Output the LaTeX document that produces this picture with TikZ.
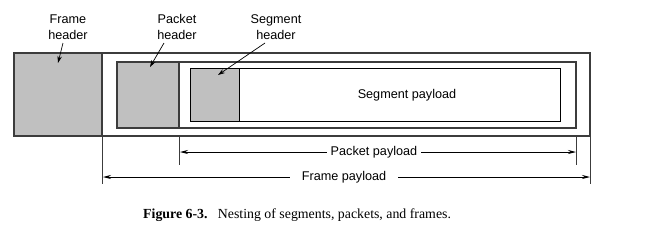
\documentclass[tikz,border=0pt]{standalone}
\usepackage{fontspec}
\setmainfont{Liberation Serif}
\newfontfamily\labelfont{Liberation Sans}
\usetikzlibrary{arrows.meta}

\definecolor{hdrgray}{HTML}{C0C0C0}
\definecolor{edge}{HTML}{3C3C3C}

\tikzset{
  lbl/.style={font=\labelfont\fontsize{12.7}{15.5}\selectfont, align=center, inner sep=0pt},
  hdr/.style={draw=edge, fill=hdrgray, line width=1.1pt},
  outerbox/.style={draw=edge, line width=1.1pt},
  segbox/.style={draw=black, line width=1pt},
  pointer/.style={-{Stealth[length=7pt,width=4.5pt]}, line width=0.7pt},
  dimline/.style={-{Stealth[length=8pt,width=4pt]}, line width=0.8pt},
  tick/.style={line width=0.8pt, draw=edge},
}

\begin{document}
\begin{tikzpicture}[x=1bp, y=-1bp]
  \useasboundingbox (0,0) rectangle (649,242);

  % frame with its header
  \draw[outerbox] (14,53) rectangle (590,136);
  \draw[hdr] (14,53) rectangle (102,136);
  % packet with its header
  \draw[outerbox] (117,62) rectangle (576,128);
  \draw[hdr] (117,62) rectangle (179,128);
  % segment with its header
  \draw[segbox] (190,68) rectangle (560,121);
  \draw[segbox, fill=hdrgray] (190,68) rectangle (239,121);
  \node[lbl] (segpl) at (407,95) {Segment payload};

  % header labels and their pointers
  \node[lbl] (fh) at (68,27) {Frame\\header};
  \node[lbl] (ph) at (177,27) {Packet\\header};
  \node[lbl] (sh) at (276,27) {Segment\\header};
  \coordinate (fhtip) at (58,63);
  \coordinate (phtip) at (150,67);
  \coordinate (shtip) at (218,75);
  \draw[pointer] (63,43) -- (fhtip);
  \draw[pointer] (164,43) -- (phtip);
  \draw[pointer] (265,43) -- (shtip);

  % extent markers
  \coordinate (ppL0) at (179,136); \coordinate (ppL1) at (179,165);
  \coordinate (ppR0) at (576,136); \coordinate (ppR1) at (576,165);
  \coordinate (fpL0) at (102,136); \coordinate (fpL1) at (102,184);
  \coordinate (fpR0) at (590,136); \coordinate (fpR1) at (590,184);
  \draw[tick] (ppL0) -- (ppL1);
  \draw[tick] (ppR0) -- (ppR1);
  \draw[tick] (fpL0) -- (fpL1);
  \draw[tick] (fpR0) -- (fpR1);

  % packet payload extent
  \node[lbl, inner xsep=4bp] (pp) at (374,152) {Packet payload};
  \coordinate (ppA) at (180,152);
  \coordinate (ppB) at (576,152);
  \draw[dimline] (pp.west) -- (ppA);
  \draw[dimline] (pp.east) -- (ppB);

  % frame payload extent
  \node[lbl, inner xsep=12bp] (fp) at (344,177) {Frame payload};
  \coordinate (fpA) at (103,177);
  \coordinate (fpB) at (590,177);
  \draw[dimline] (fp.west) -- (fpA);
  \draw[dimline] (fp.east) -- (fpB);

  % caption
  \node[anchor=base west, inner sep=0pt, font=\fontsize{13.9}{16}\selectfont] (cap) at (143,218)
    {\textbf{Figure 6-3.}\hspace{0.75em}Nesting of segments, packets, and frames.};
\end{tikzpicture}
\end{document}
